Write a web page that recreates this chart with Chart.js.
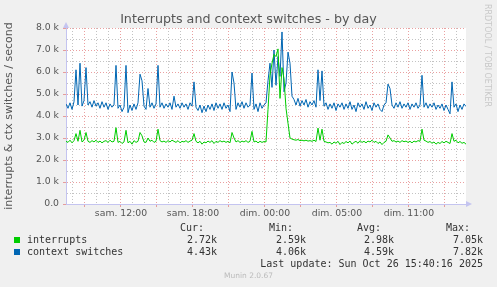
<!DOCTYPE html>
<html><head><meta charset="utf-8">
<script src="https://cdn.jsdelivr.net/npm/chart.js@4/dist/chart.umd.min.js"></script>
<style>
html,body{margin:0;padding:0;background:#f0f0f0;}
#wrap{position:relative;width:497px;height:287px;overflow:hidden;}
canvas{position:absolute;left:0;top:0;}
.m{position:absolute;font-family:'DejaVu Sans Mono',monospace;font-size:10px;line-height:12px;color:#333;white-space:pre;}
.r{text-align:right;}
.sq{position:absolute;width:6px;height:6px;}
#title{position:absolute;left:0;top:11px;width:497px;text-align:center;font-family:'DejaVu Sans',sans-serif;font-size:12.7px;line-height:16px;color:#555;}
#foot{position:absolute;left:0;top:271px;width:497px;text-align:center;font-family:'DejaVu Sans',sans-serif;font-size:7.5px;line-height:10px;color:#bbb;}
</style></head>
<body><div id="wrap"><canvas id="c" width="497" height="287"></canvas>
<div id="title"></div>
<div id="side" style="position:absolute;left:483px;top:4px;writing-mode:vertical-rl;font-family:'DejaVu Sans',sans-serif;font-size:8px;color:#c8c8c8;">RRDTOOL / TOBI OETIKER</div>
<div id="foot"></div>
</div>
<script>
// ---- data (values in thousands per second), one sample every 10 minutes ----
const interrupts = [
2.85,2.8,2.9,2.78,2.88,3.2,2.85,3.35,2.82,2.9,
3.25,2.85,2.8,2.88,2.82,2.9,2.8,2.86,2.78,2.85,
2.88,2.8,2.9,2.82,2.85,3.47,2.8,2.85,2.75,2.82,
3.35,2.78,2.85,2.72,2.88,2.8,2.85,3.25,3.1,2.82,
2.8,3.0,2.85,2.9,2.8,2.85,3.4,2.88,2.82,2.86,
2.8,2.88,2.82,2.9,2.85,2.8,2.88,2.78,2.85,2.82,
2.88,2.8,2.86,2.9,3.2,2.85,2.78,2.85,2.72,2.82,
2.78,2.86,2.8,2.88,2.75,2.85,2.8,2.88,2.82,2.86,
2.8,2.85,2.78,3.25,3.0,2.82,2.88,2.8,2.86,2.82,
2.88,2.8,2.85,3.3,2.82,2.86,2.78,2.85,2.8,2.84,
2.82,4.3,5.85,6.4,6.8,6.7,7.05,4.8,6.2,5.7,
4.35,3.67,3.0,2.95,2.92,2.9,2.93,2.88,2.9,2.87,
2.9,2.86,2.88,2.85,2.9,2.84,3.45,2.9,3.4,2.85,
2.82,2.78,2.8,2.72,2.82,2.76,2.85,2.7,2.8,2.75,
2.84,2.78,2.86,2.72,2.8,2.85,2.76,2.88,2.8,2.85,
2.78,2.86,2.82,2.9,2.8,2.85,2.75,2.82,2.7,2.8,
2.85,3.14,3.0,2.85,2.88,2.82,2.86,2.8,2.88,2.83,
2.86,2.8,2.85,2.78,2.86,2.82,2.88,2.85,3.4,2.9,
2.86,2.8,2.84,2.76,2.82,2.72,2.8,2.75,2.84,2.78,
2.85,2.8,2.75,3.2,2.85,2.9,2.78,2.84,2.76,2.8,
2.72];
const contextSwitches = [
4.55,4.35,4.6,4.3,4.65,6.1,4.5,6.4,4.45,4.7,
6.2,4.5,4.65,4.4,4.7,4.45,4.6,4.35,4.65,4.4,
4.6,4.3,4.55,4.4,4.5,6.3,4.35,4.5,4.2,4.4,
6.3,4.15,4.5,4.25,4.55,4.3,4.6,5.9,5.6,4.45,
4.3,5.25,4.4,4.6,4.35,4.55,6.3,4.4,4.6,4.35,
4.55,4.4,4.6,4.3,4.9,4.4,4.55,4.35,4.6,4.4,
4.55,4.3,4.6,4.45,5.55,4.4,4.25,4.5,4.15,4.45,
4.2,4.5,4.3,4.55,4.25,4.6,4.35,4.55,4.3,4.6,
4.35,4.5,4.2,6.0,5.5,4.3,4.6,4.4,4.65,4.35,
4.6,4.4,4.5,5.95,4.3,4.55,4.2,4.6,4.35,4.5,
4.6,5.6,6.4,5.3,7.0,5.4,6.7,5.8,7.82,5.1,
5.5,6.9,6.4,4.9,4.75,4.5,4.8,4.45,4.7,4.5,
4.75,4.4,4.65,4.5,4.7,4.4,6.1,4.7,6.05,4.45,
4.6,4.3,4.55,4.35,4.6,4.25,4.55,4.4,4.6,4.3,
4.55,4.35,4.65,4.3,4.5,4.2,4.6,4.4,4.55,4.3,
4.65,4.35,4.5,4.25,4.6,4.4,4.55,4.3,4.2,4.5,
4.6,5.45,5.25,4.5,4.35,4.6,4.4,4.65,4.35,4.55,
4.4,4.6,4.3,4.55,4.4,4.6,4.35,4.5,5.85,4.4,
4.6,4.35,4.55,4.4,4.6,4.3,4.5,4.35,4.55,4.25,
4.5,4.3,4.1,5.55,4.4,4.55,4.2,4.5,4.3,4.55,
4.43];
const timeLabels = ['sam. 12:00','sam. 18:00','dim. 00:00','dim. 05:00','dim. 11:00'];
const timeLabelHours = [4.583,10.583,16.583,22.583,28.583]; // hours since left edge
const seriesNames = ['interrupts','context switches'];
const seriesColors = ['#00cc00','#0066b3'];
const statHeaders = ['Cur:','Min:','Avg:','Max:'];
const statInterrupts = ['2.72k','2.59k','2.98k','7.05k'];
const statContext = ['4.43k','4.06k','4.59k','7.82k'];
const titleText = 'Interrupts and context switches - by day';
const yTitle = 'interrupts & ctx switches / second';
const lastUpdate = 'Last update: Sun Oct 26 15:40:16 2025';
const footer = 'Munin 2.0.67';

// ---- chart ----
const STEP_H = 1/6;
const toPts = arr => arr.map((v,i)=>({x:i*STEP_H,y:v}));
const RED = 'rgba(225,120,120,0.7)', GRAY = 'rgba(170,170,170,0.7)', AXIS = '#c4c4f0';
const hourTicks = [];
for (let k=0; 0.583+k <= 33.33; k++) hourTicks.push(0.583+k);

const deco = {
  id:'deco',
  beforeDraw(ch){
    const {ctx, chartArea:a} = ch;
    ctx.save(); ctx.fillStyle='#ffffff';
    ctx.fillRect(a.left,a.top,a.right-a.left,a.bottom-a.top); ctx.restore();
  },
  afterDraw(ch){
    const {ctx, chartArea:a} = ch;
    ctx.save(); ctx.fillStyle=AXIS;
    ctx.beginPath(); ctx.moveTo(a.left-3,a.top); ctx.lineTo(a.left+3,a.top); ctx.lineTo(a.left,a.top-6); ctx.closePath(); ctx.fill();
    ctx.beginPath(); ctx.moveTo(a.right,a.bottom-3); ctx.lineTo(a.right,a.bottom+3); ctx.lineTo(a.right+6,a.bottom); ctx.closePath(); ctx.fill();
    ctx.restore();
  }
};

new Chart(document.getElementById('c'), {
  type:'line',
  data:{datasets:[
    {label:seriesNames[0],data:toPts(interrupts),borderColor:seriesColors[0],borderWidth:1,pointRadius:0,tension:0},
    {label:seriesNames[1],data:toPts(contextSwitches),borderColor:seriesColors[1],borderWidth:1,pointRadius:0,tension:0}
  ]},
  options:{
    responsive:false, animation:false, devicePixelRatio:1,
    layout:{padding:{left:0,right:31,top:28,bottom:63}},
    plugins:{ legend:{display:false}, tooltip:{enabled:false}, title:{display:false} },
    scales:{
      x:{type:'linear',min:0,max:200*STEP_H,
        afterBuildTicks(s){ s.ticks = hourTicks.map(v=>({value:v})); },
        afterFit(s){ s.height = 20; },
        grid:{color:c=>{const i=Math.round(c.tick.value-0.583);return i%3===1?RED:GRAY;},
          tickColor:c=>{const i=Math.round(c.tick.value-0.583);return i%3===1?RED:'rgba(0,0,0,0)';},
          tickLength:3, lineWidth:1},
        border:{color:AXIS,width:1,dash:[1,2]},
        ticks:{autoSkip:false,maxRotation:0,padding:1,color:'#555',font:{family:'DejaVu Sans',size:9.3},
          callback:(v)=>{const j=timeLabelHours.findIndex(h=>Math.abs(h-v)<0.01);return j>=0?timeLabels[j]:'';}}
      },
      y:{min:0,max:8,
        afterFit(s){ s.width = 66; },
        grid:{color:c=>c.tick.value===0?'rgba(0,0,0,0)':(Number.isInteger(c.tick.value)?RED:GRAY),
          tickColor:c=>Number.isInteger(c.tick.value)?RED:'rgba(0,0,0,0)',tickLength:3,lineWidth:1},
        border:{color:AXIS,width:1,dash:[1,2]},
        ticks:{stepSize:0.5,autoSkip:false,padding:4,color:'#555',font:{family:'DejaVu Sans',size:9.3},
          callback:v=>Number.isInteger(v)?(v===0?'0.0':v.toFixed(1)+' k'):''},
        title:{display:true,text:yTitle,color:'#555',
          font:{family:'DejaVu Sans',size:11},padding:{top:3,bottom:0}}
      }
    }
  },
  plugins:[deco]
});

// ---- title / legend / footer as text ----
document.getElementById('title').textContent = titleText;
document.getElementById('foot').textContent = footer;
const wrap = document.getElementById('wrap');
function txt(s, opts){ const d=document.createElement('div'); d.className='m'+(opts.right!==undefined?' r':''); d.textContent=s;
  for (const k in opts) d.style[k]=opts[k]+'px'; wrap.appendChild(d); return d; }
const headRight = [204,293,381,470];
const valRight = [217,306,394,483];
statHeaders.forEach((h,i)=>txt(h,{right:497-headRight[i],top:222}));
const rowsTop = [234,245.5];
[statInterrupts,statContext].forEach((vals,r)=>{
  const sq=document.createElement('div'); sq.className='sq'; sq.style.left='14px'; sq.style.top=(rowsTop[r]+3)+'px';
  sq.style.background=seriesColors[r]; wrap.appendChild(sq);
  txt(seriesNames[r],{left:27,top:rowsTop[r]});
  vals.forEach((v,i)=>txt(v,{right:497-valRight[i],top:rowsTop[r]}));
});
txt(lastUpdate,{right:497-483,top:258});
</script></body></html>
